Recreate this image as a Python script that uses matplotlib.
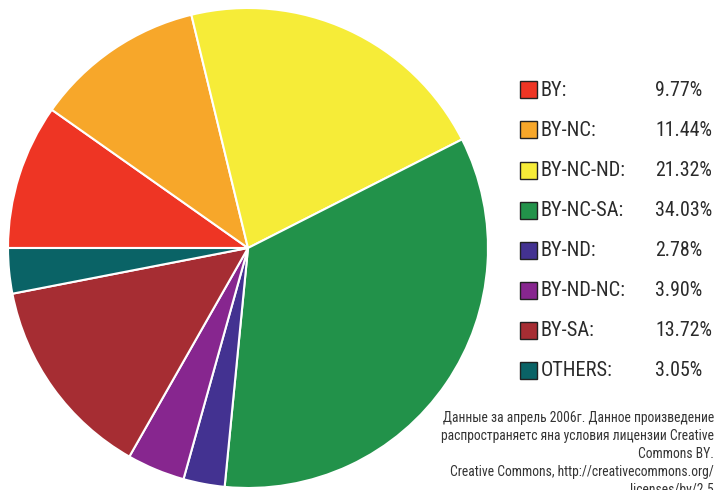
import matplotlib
matplotlib.use("Agg")
import matplotlib.pyplot as plt
from matplotlib import font_manager
from matplotlib.patches import Rectangle

labels = ["BY:", "BY-NC:", "BY-NC-ND:", "BY-NC-SA:", "BY-ND:", "BY-ND-NC:", "BY-SA:", "OTHERS:"]
values = [9.77, 11.44, 21.32, 34.03, 2.78, 3.90, 13.72, 3.05]
pct_text = ["9.77%", "11.44%", "21.32%", "34.03%", "2.78%", "3.90%", "13.72%", "3.05%"]
colors = ["#EE3524", "#F7A72A", "#F6EC38", "#22924A", "#433291", "#87268F", "#A62D33", "#0A6366"]
note = ("Данные за апрель 2006г. Данное произведение\n"
        "распространяетс яна условия лицензии Creative\n"
        "Commons BY.\n"
        "Creative Commons, http://creativecommons.org/\n"
        "licenses/by/2.5")

avail = {f.name for f in font_manager.fontManager.ttflist}
fam = [f for f in ["Roboto Condensed", "Liberation Sans Narrow", "Roboto", "DejaVu Sans"] if f in avail]
plt.rcParams['font.family'] = fam

W, H = 719, 490
fig = plt.figure(figsize=(W / 100, H / 100), dpi=100)
cx, cy, r = 248, 248, 240
ax = fig.add_axes([(cx - r) / W, (H - cy - r) / H, 2 * r / W, 2 * r / H])
ax.pie(values, colors=colors, startangle=180, counterclock=False,
       wedgeprops=dict(edgecolor="white", linewidth=1.5))
ax.set_xlim(-1, 1)
ax.set_ylim(-1, 1)
ax.set_aspect("equal")
ax.axis("off")

y0, dy = 90, 40
for i, (lab, p, c) in enumerate(zip(labels, pct_text, colors)):
    y = y0 + i * dy
    fig.patches.append(Rectangle((520 / W, 1 - (y + 8.5) / H), 17 / W, 17 / H,
                                 transform=fig.transFigure, facecolor=c,
                                 edgecolor="#222222", linewidth=1))
    fig.text(541 / W, 1 - y / H, lab, fontsize=14.7, va="center", ha="left", color="#2a2a2a")
    fig.text(655 / W, 1 - y / H, p, fontsize=14.3, va="center", ha="left", color="#2a2a2a")

fig.text(714 / W, 1 - 411 / H, note, fontsize=9.8, ha="right", va="top",
         multialignment="right", linespacing=1.37, color="#333333")

fig.savefig("out.png", dpi=100)
